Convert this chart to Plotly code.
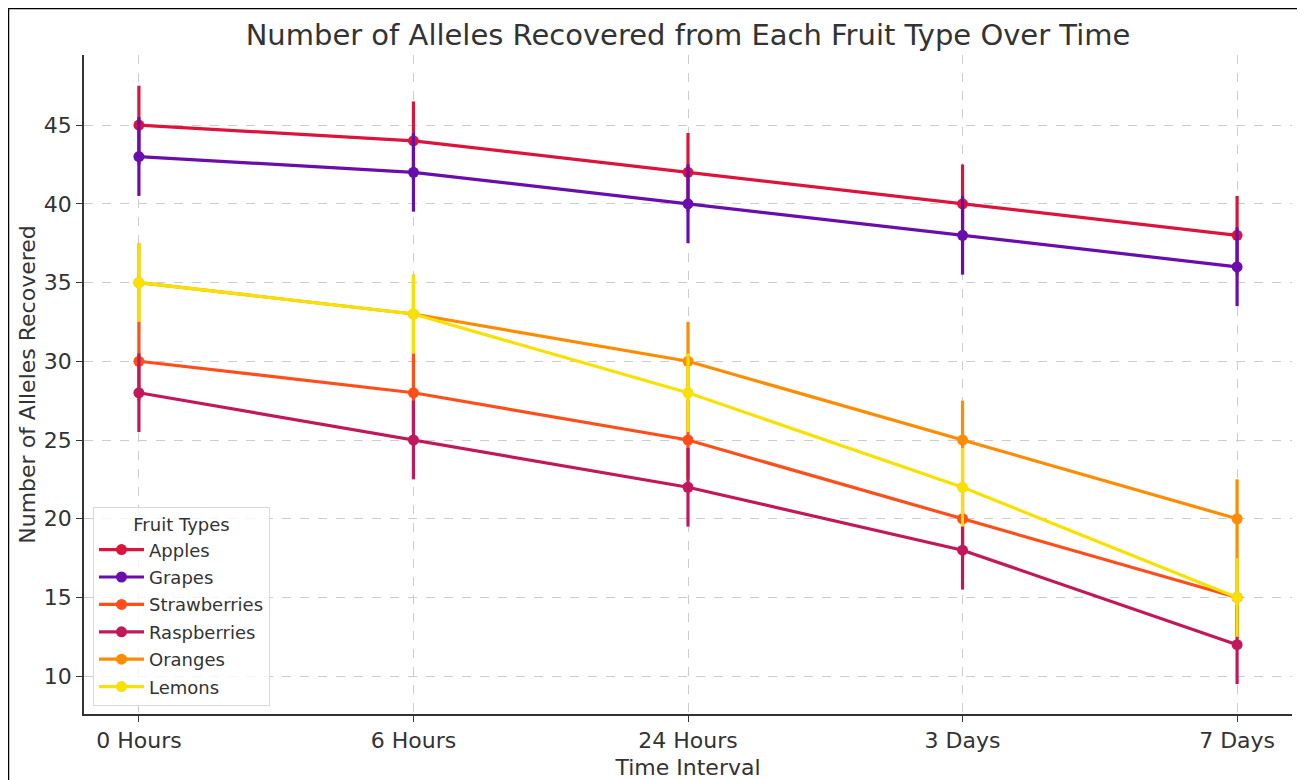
import plotly.graph_objects as go

time_labels = ["0 Hours", "6 Hours", "24 Hours", "3 Days", "7 Days"]
fruits = ["Apples", "Grapes", "Strawberries", "Raspberries", "Oranges", "Lemons"]
apples = [45, 44, 42, 40, 38]
grapes = [43, 42, 40, 38, 36]
strawberries = [30, 28, 25, 20, 15]
raspberries = [28, 25, 22, 18, 12]
oranges = [35, 33, 30, 25, 20]
lemons = [35, 33, 28, 22, 15]
error = [2.5, 2.5, 2.5, 2.5, 2.5]

series = [apples, grapes, strawberries, raspberries, oranges, lemons]
colors = ["#DC143C", "#6A0DAD", "#FF4E1A", "#C2185B", "#FF8C00", "#F8E100"]

FONT = "DejaVu Sans"
TXT = "#333333"

W, H = 1305, 780
ML, MR, MT, MB = 76, 21, 47, 74
PW, PH = W - ML - MR, H - MT - MB

fig = go.Figure()
xpos = list(range(len(time_labels)))
for name, vals, col in zip(fruits, series, colors):
    fig.add_trace(go.Scatter(
        x=xpos, y=vals, name=name, mode="lines+markers",
        line=dict(color=col, width=3.2),
        marker=dict(color=col, size=11),
        error_y=dict(type="data", array=error, visible=True, color=col, thickness=3.2, width=0),
        legendgroup=name,
    ))

fig.update_layout(
    width=W, height=H,
    margin=dict(l=ML, r=MR, t=MT, b=MB),
    paper_bgcolor="white", plot_bgcolor="white",
    font=dict(family=FONT, color=TXT, size=22),
    title=dict(text="Number of Alleles Recovered from Each Fruit Type Over Time",
               x=0.5, xref="paper", y=1 - 27 / H, yref="container",
               xanchor="center", yanchor="middle",
               font=dict(size=29, color=TXT, family=FONT)),
    showlegend=True,
    legend=dict(
        x=(85 - ML) / PW, y=(H - MB - 499) / PH, xanchor="left", yanchor="top",
        bgcolor="rgba(255,255,255,0.8)", bordercolor="#d9d9d9", borderwidth=1,
        font=dict(size=18, color=TXT, family=FONT),
        title=dict(text="Fruit Types", side="top center", font=dict(size=18, color=TXT)),
        traceorder="grouped", tracegroupgap=1, itemwidth=45,
    ),
    shapes=[dict(type="rect", xref="paper", yref="paper",
                 x0=(0 - ML) / PW, x1=(1292 - ML) / PW,
                 y0=(H - MB - 800) / PH, y1=(H - MB - 0) / PH,
                 line=dict(color="black", width=2.5), fillcolor="rgba(0,0,0,0)", layer="above")],
)

fig.update_xaxes(
    range=[-0.2, 4.2], tickmode="array", tickvals=xpos, ticktext=time_labels,
    showline=True, linecolor="#333333", linewidth=1.5, mirror=False,
    ticks="outside", ticklen=6, tickwidth=1.2, tickcolor="#333333",
    showgrid=True, gridcolor="#cccccc", gridwidth=1, griddash="dash",
    zeroline=False, tickfont=dict(size=22, color=TXT), automargin=False,
    title=dict(text="Time Interval", font=dict(size=22, color=TXT), standoff=7),
)
fig.update_yaxes(
    range=[7.6, 49.45], tickmode="array", tickvals=[10, 15, 20, 25, 30, 35, 40, 45],
    showline=True, linecolor="#333333", linewidth=1.5, mirror=False,
    ticks="outside", ticklen=6, tickwidth=1.2, tickcolor="#333333",
    showgrid=True, gridcolor="#cccccc", gridwidth=1, griddash="dash",
    zeroline=False, tickfont=dict(size=22, color=TXT), automargin=False,
    title=dict(text="Number of Alleles Recovered", font=dict(size=22, color=TXT), standoff=2),
)

fig.write_html("out.html")
